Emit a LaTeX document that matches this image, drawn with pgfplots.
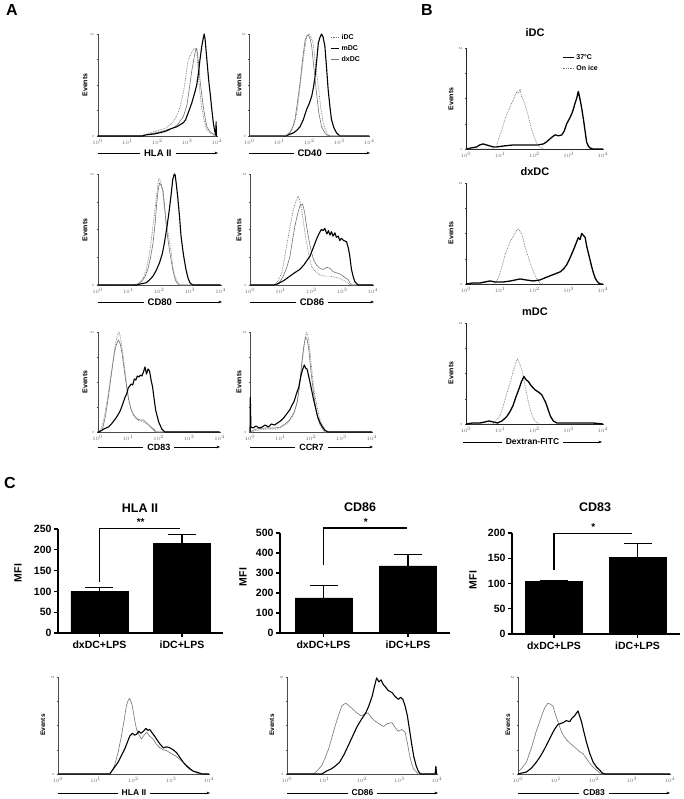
\documentclass[border=0pt]{standalone}
\usepackage{fontspec}
\setmainfont{Liberation Sans}
\usepackage{pgfplots}
\pgfplotsset{compat=1.18}
\usetikzlibrary{arrows.meta}
\pgfplotsset{
 hist/.style={scale only axis, anchor=south west, xmin=0, xmax=4, ymin=0, ymax=100,
   axis x line*=bottom, axis y line*=left,
   axis line style={black!70, line width=0.4pt},
   xtick={0,1,2,3,4}, xticklabels={$10^0$,$10^1$,$10^2$,$10^3$,$10^4$},
   ytick={0,25,50,75,100}, yticklabels={0,,,,64},
   tick label style={font=\fontsize{3}{3}\selectfont, text=black!60},
   xticklabel style={yshift=1pt}, yticklabel style={xshift=1pt},
   tick style={black!70, line width=0.3pt}, major tick length=1.2pt, tick align=outside,
   clip=false, line join=round},
 mdc/.style={black, line width=1.1pt, line join=round},
 dxdc/.style={black!55, line width=0.6pt, line join=round},
 idc/.style={black!55, densely dotted, line width=0.7pt},
 bars/.style={scale only axis, anchor=south west, ybar, bar width=57pt, ymin=0,
   axis x line*=bottom, axis y line*=left, axis line style={line width=1.3pt},
   xtick={1,2}, xticklabels={dxDC+LPS,iDC+LPS},
   tick style={line width=1.3pt, black}, major tick length=4pt, tick align=outside,
   tick label style={font=\bfseries\fontsize{10.5}{11}\selectfont},
   /pgf/number format/assume math mode=true,
   yticklabel style={xshift=1pt}, clip=false},
 barplot/.style={fill=black, draw=black, error bars/.cd, y dir=plus, y explicit,
   error bar style={line width=1.3pt, black}, error mark options={rotate=90, line width=1.3pt, mark size=14pt, black}},
}
\newcommand{\arrowlab}[5][9]{%
 \draw[-{Stealth[length=3.5pt,width=2.6pt]}, line width=0.5pt] (#2,#4) -- (#3,#4);
 \node[fill=white, inner xsep=4pt, inner ysep=1pt, font=\bfseries\fontsize{#1}{#1}\selectfont] at ({(#2+#3)/2},#4) {#5};}
\newcommand{\events}[3][7]{\node[rotate=90, font=\bfseries\fontsize{#1}{#1}\selectfont] at (#2,#3) {Events};}
\begin{document}
\begin{tikzpicture}[x=1pt,y=1pt]
\path[use as bounding box] (0,0) rectangle (683,799);
% ---------------- Panel letters
\node[font=\bfseries\fontsize{16}{16}\selectfont] at (12,789) {A};
\node[font=\bfseries\fontsize{16}{16}\selectfont] at (427,789) {B};
\node[font=\bfseries\fontsize{16}{16}\selectfont] at (10,316) {C};
% ---------------- A row 1 left : HLA II
\begin{axis}[hist, at={(97.7pt,663pt)}, width=119.3pt, height=102pt]
\addplot[idc] coordinates {(0,0)(1.4,0)(1.53,1)(1.75,3)(2.09,6)(2.31,8)(2.54,14)(2.65,20)(2.76,28)(2.87,42)(2.96,60)(3.04,75)(3.12,80)(3.21,85)(3.28,86)(3.32,84)(3.38,58)(3.43,42)(3.49,27)(3.57,15)(3.66,6)(3.77,3)(3.88,1)(3.95,0)(4,0)};
\addplot[dxdc] coordinates {(0,0)(1.45,0)(1.6,1)(2.09,4)(2.54,8)(2.7,12)(2.87,19)(2.99,30)(3.05,42)(3.15,63)(3.24,78)(3.28,84)(3.32,86)(3.38,72)(3.43,55)(3.49,40)(3.54,29)(3.6,18)(3.66,9)(3.77,4)(3.88,2)(3.95,0)(4,0)};
\addplot[mdc] coordinates {(0,0)(1.5,0)(1.6,1)(1.9,2)(2.2,4)(2.31,5)(2.45,7)(2.54,8)(2.65,9)(2.76,11)(2.87,13)(2.95,16)(3.05,24)(3.15,32)(3.25,42)(3.32,50)(3.38,62)(3.43,75)(3.49,88)(3.54,96)(3.57,100)(3.6,95)(3.66,75)(3.72,55)(3.77,42)(3.83,25)(3.88,12)(3.93,4)(3.96,1)(3.97,14)(3.98,0)(4,0)};
\end{axis}
\arrowlab[9.5]{97.7}{218}{646}{HLA II}
\events{85}{714}
% ---------------- A row 1 right : CD40
\begin{axis}[hist, at={(249.3pt,663pt)}, width=120pt, height=102pt,
  legend style={at={(rel axis cs:0.675,1.02)}, anchor=north west, draw=none, fill=none,
  font=\bfseries\fontsize{7}{8}\selectfont, inner sep=0pt, row sep=0.5pt},
  legend cell align=left,
  legend image code/.code={\draw[#1] (0pt,0pt) -- (8pt,0pt);}]
\addplot[idc] coordinates {(0,0)(1.2,0)(1.3,1)(1.41,5)(1.5,12)(1.58,22)(1.66,40)(1.74,61)(1.83,82)(1.91,98)(1.97,100)(2.02,99)(2.08,95)(2.13,91)(2.2,72)(2.3,49)(2.38,28)(2.47,12)(2.55,5)(2.63,1)(2.75,0)(4,0)};
\addlegendentry{iDC}
\addplot[mdc] coordinates {(0,0)(1.19,0)(1.3,1)(1.47,3)(1.6,6)(1.69,9)(1.8,16)(1.91,26)(2.0,32)(2.08,39)(2.14,48)(2.19,58)(2.25,75)(2.3,91)(2.36,97)(2.41,100)(2.46,97)(2.52,88)(2.58,65)(2.63,45)(2.69,28)(2.74,16)(2.82,8)(2.91,3)(3.02,0)(4,0)};
\addlegendentry{mDC}
\addplot[dxdc] coordinates {(0,0)(1.13,0)(1.25,1)(1.36,4)(1.45,9)(1.52,16)(1.6,32)(1.69,52)(1.78,76)(1.86,94)(1.92,98)(1.97,99)(2.02,96)(2.08,88)(2.16,65)(2.24,42)(2.32,22)(2.41,9)(2.5,4)(2.58,1)(2.7,0)(4,0)};
\addlegendentry{dxDC}
\end{axis}
\arrowlab[9.5]{249.3}{370}{646}{CD40}
\events{239}{714}
% ---------------- A row 2 left : CD80
\begin{axis}[hist, at={(97.7pt,514pt)}, width=123pt, height=111pt]
\addplot[idc] coordinates {(0,0)(1.3,0)(1.37,2)(1.48,6)(1.58,14)(1.66,25)(1.74,40)(1.82,58)(1.9,77)(1.96,92)(1.99,96)(2.04,94)(2.1,86)(2.16,72)(2.23,57)(2.28,48)(2.33,40)(2.38,32)(2.44,17)(2.5,9)(2.6,2)(2.7,0)(4,0)};
\addplot[dxdc] coordinates {(0,0)(1.15,0)(1.3,1)(1.42,3)(1.53,7)(1.63,14)(1.72,25)(1.8,38)(1.87,56)(1.92,74)(1.97,86)(2.01,92)(2.06,90)(2.12,86)(2.18,70)(2.23,53)(2.28,42)(2.33,32)(2.39,22)(2.44,14)(2.5,7)(2.55,3)(2.65,0)(4,0)};
\addplot[mdc] coordinates {(0,0)(1.26,0)(1.4,1)(1.58,2)(1.7,5)(1.8,8)(1.9,13)(2.01,20)(2.1,28)(2.17,38)(2.25,52)(2.33,68)(2.39,82)(2.44,95)(2.49,100)(2.52,99)(2.56,90)(2.6,80)(2.66,62)(2.71,44)(2.79,27)(2.87,14)(2.94,6)(3.0,2)(3.09,0)(4,0)};
\end{axis}
\arrowlab[9.5]{97.7}{222}{497}{CD80}
\events{85}{569}
% ---------------- A row 2 right : CD86
\begin{axis}[hist, at={(250pt,514pt)}, width=123pt, height=111pt]
\addplot[idc] coordinates {(0,0)(0.81,0)(0.92,4)(1.03,11)(1.11,22)(1.19,35)(1.3,52)(1.41,68)(1.5,76)(1.57,80)(1.62,76)(1.68,68)(1.76,52)(1.84,38)(1.92,26)(2.0,17)(2.13,12)(2.27,9)(2.45,8)(2.6,8)(2.75,7)(2.92,6)(3.05,4)(3.14,3)(3.24,0)(4,0)};
\addplot[dxdc] coordinates {(0,0)(0.86,0)(0.97,3)(1.08,8)(1.2,16)(1.3,26)(1.38,40)(1.46,53)(1.54,63)(1.62,71)(1.71,73)(1.78,65)(1.84,53)(1.92,40)(2.0,29)(2.08,22)(2.16,18)(2.27,15)(2.38,14)(2.5,16)(2.6,15)(2.7,12)(2.81,11)(2.92,10)(3.03,8)(3.12,6)(3.19,5)(3.25,2)(3.3,0)(4,0)};
\addplot[mdc] coordinates {(0,0)(0.76,0)(0.9,1)(1.1,4)(1.3,8)(1.45,11)(1.62,14)(1.75,18)(1.85,22)(1.95,26)(2.05,33)(2.16,41)(2.24,46)(2.32,50)(2.38,49)(2.43,51)(2.5,46)(2.55,49)(2.6,45)(2.65,48)(2.7,44)(2.76,47)(2.81,43)(2.87,44)(2.92,40)(2.97,42)(3.05,40)(3.14,39)(3.2,33)(3.24,27)(3.3,14)(3.36,7)(3.41,3)(3.51,0)(4,0)};
\end{axis}
\arrowlab[9.5]{250}{374}{497}{CD86}
\events{239}{569}
% ---------------- A row 3 left : CD83
\begin{axis}[hist, at={(97.7pt,367pt)}, width=122pt, height=100pt]
\addplot[idc] coordinates {(0,0)(0.1,2)(0.2,12)(0.3,30)(0.4,50)(0.5,70)(0.58,88)(0.65,98)(0.7,100)(0.75,94)(0.82,80)(0.9,60)(1.0,35)(1.08,24)(1.15,18)(1.3,12)(1.5,10)(1.65,8)(1.8,4)(1.95,0)(4,0)};
\addplot[dxdc] coordinates {(0,0)(0.15,2)(0.25,15)(0.35,35)(0.45,58)(0.55,80)(0.62,88)(0.68,92)(0.74,88)(0.8,78)(0.88,60)(0.95,45)(1.02,32)(1.1,22)(1.2,16)(1.3,13)(1.4,12)(1.5,12)(1.6,9)(1.7,6)(1.8,3)(1.9,0)(4,0)};
\addplot[mdc] coordinates {(0,0)(0.05,0)(0.2,3)(0.35,5)(0.45,8)(0.6,14)(0.7,19)(0.75,22)(0.82,28)(0.9,35)(0.95,38)(1.0,44)(1.05,46)(1.1,48)(1.15,47)(1.2,53)(1.25,52)(1.3,56)(1.35,55)(1.4,57)(1.45,56)(1.5,60)(1.55,65)(1.6,58)(1.65,63)(1.7,61)(1.75,52)(1.8,45)(1.85,33)(1.9,22)(2.0,10)(2.1,3)(2.2,0)(4,0)};
\end{axis}
\arrowlab{97.7}{220}{352}{CD83}
\events{85}{417}
% ---------------- A row 3 right : CCR7
\begin{axis}[hist, at={(250pt,367pt)}, width=122pt, height=100pt]
\addplot[idc] coordinates {(0,0)(0.3,2)(0.6,3)(0.9,3)(1.2,8)(1.4,15)(1.5,24)(1.6,40)(1.68,60)(1.75,80)(1.8,92)(1.85,100)(1.9,96)(1.95,85)(2.0,70)(2.05,55)(2.12,38)(2.2,25)(2.28,14)(2.35,8)(2.45,3)(2.55,0)(4,0)};
\addplot[dxdc] coordinates {(0,0)(0.2,3)(0.5,4)(0.8,4)(1.0,5)(1.15,8)(1.3,12)(1.45,20)(1.55,30)(1.63,48)(1.7,70)(1.76,85)(1.82,95)(1.87,93)(1.93,82)(2.0,60)(2.08,40)(2.15,25)(2.22,14)(2.3,7)(2.38,3)(2.45,0)(4,0)};
\addplot[mdc] coordinates {(0,0)(0.01,35)(0.03,5)(0.1,4)(0.2,6)(0.3,4)(0.4,5)(0.5,7)(0.6,5)(0.7,8)(0.8,7)(0.9,9)(1.0,11)(1.1,14)(1.2,18)(1.3,22)(1.38,27)(1.45,31)(1.52,38)(1.6,45)(1.66,55)(1.72,62)(1.78,67)(1.82,64)(1.87,63)(1.93,55)(2.0,45)(2.08,33)(2.15,24)(2.22,15)(2.3,9)(2.38,5)(2.45,2)(2.55,0)(4,0)};
\end{axis}
\arrowlab{250}{373}{352}{CCR7}
\events{239}{417}
% ---------------- B : iDC
\node[font=\bfseries\fontsize{11}{11}\selectfont] at (535,766) {iDC};
\begin{axis}[hist, at={(466pt,650pt)}, width=137pt, height=101pt, axis line style={black!85, line width=0.5pt},
  legend style={at={(rel axis cs:0.70,0.96)}, anchor=north west, draw=none, fill=none,
  font=\bfseries\fontsize{7}{8}\selectfont, inner sep=0pt, row sep=0.5pt},
  legend cell align=left,
  legend image code/.code={\draw[#1] (0pt,0pt) -- (11pt,0pt);}]
\addplot[black, line width=1.3pt, line join=round] coordinates {(0,0)(0.15,1)(0.31,2)(0.4,4)(0.5,5)(0.6,4)(0.7,3)(0.8,2)(0.9,2)(1.1,3)(1.38,4)(1.6,4)(1.87,4)(2.1,4)(2.26,5)(2.35,7)(2.45,10)(2.52,12)(2.6,14)(2.7,13)(2.8,14)(2.87,18)(2.94,25)(3.02,30)(3.09,35)(3.14,40)(3.18,45)(3.23,50)(3.28,57)(3.33,49)(3.38,40)(3.43,29)(3.48,17)(3.52,7)(3.57,3)(3.62,1)(3.7,0)(4,0)};
\addlegendentry{37°C}
\addplot[idc] coordinates {(0,0)(0.8,0)(0.9,4)(0.94,9)(1.04,18)(1.14,30)(1.24,38)(1.33,45)(1.4,50)(1.48,57)(1.53,55)(1.58,59)(1.62,52)(1.67,49)(1.72,44)(1.77,39)(1.85,28)(1.92,19)(2.0,11)(2.06,6)(2.15,2)(2.26,0)};
\addlegendentry{On ice}
\end{axis}
\events{451}{700}
% ---------------- B : dxDC
\node[font=\bfseries\fontsize{11}{11}\selectfont] at (535,627) {dxDC};
\begin{axis}[hist, at={(466pt,515pt)}, width=137pt, height=101pt, axis line style={black!85, line width=0.5pt}]
\addplot[idc] coordinates {(0,0)(0.85,0)(0.93,5)(1.0,11)(1.07,20)(1.14,29)(1.22,36)(1.29,42)(1.36,46)(1.43,50)(1.48,53)(1.53,55)(1.58,52)(1.63,49)(1.68,43)(1.72,37)(1.8,29)(1.87,21)(1.95,14)(2.02,8)(2.1,3)(2.16,1)(2.25,0)};
\addplot[black, line width=1.3pt, line join=round] coordinates {(0,0)(0.2,1)(0.41,1)(0.55,2)(0.7,3)(0.85,2)(1.09,2)(1.3,3)(1.58,5)(1.75,4)(1.97,3)(2.16,4)(2.3,6)(2.45,8)(2.6,10)(2.75,12)(2.85,15)(2.94,19)(3.04,26)(3.14,34)(3.21,40)(3.28,46)(3.33,44)(3.38,50)(3.43,48)(3.48,46)(3.52,38)(3.57,31)(3.62,24)(3.67,17)(3.72,11)(3.77,6)(3.82,3)(3.87,1)(3.93,0)(4,0)};
\end{axis}
\events{451}{566}
% ---------------- B : mDC
\node[font=\bfseries\fontsize{11}{11}\selectfont] at (535,487) {mDC};
\begin{axis}[hist, at={(466pt,375pt)}, width=137pt, height=101pt, axis line style={black!85, line width=0.5pt}]
\addplot[idc] coordinates {(0,0)(0.79,0)(0.9,4)(0.99,8)(1.08,17)(1.18,29)(1.28,40)(1.37,51)(1.44,59)(1.5,65)(1.56,60)(1.63,54)(1.7,42)(1.76,32)(1.82,22)(1.88,14)(1.95,7)(2.01,3)(2.14,0)};
\addplot[black, line width=1.3pt, line join=round] coordinates {(0,0)(0.2,1)(0.41,1)(0.55,2)(0.67,3)(0.8,2)(0.92,1)(1.05,3)(1.18,7)(1.28,12)(1.37,18)(1.46,27)(1.56,36)(1.62,42)(1.69,47)(1.75,44)(1.82,42)(1.9,38)(2.01,34)(2.1,32)(2.21,29)(2.27,25)(2.33,21)(2.4,14)(2.46,8)(2.55,3)(2.65,1)(2.8,1)(2.97,1)(3.2,1)(3.49,1)(3.7,1)(4,0)};
\end{axis}
\arrowlab[8.5]{463}{602}{357}{Dextran-FITC}
\events{451}{426}
% ---------------- C : bar charts
\node[font=\bfseries\fontsize{12.5}{12.5}\selectfont] at (140,291) {HLA II};
\node[font=\bfseries\fontsize{12.5}{12.5}\selectfont] at (360,292) {CD86};
\node[font=\bfseries\fontsize{12.5}{12.5}\selectfont] at (595,292) {CD83};
\node[rotate=90, font=\bfseries\fontsize{10.5}{10.5}\selectfont] at (18,226) {MFI};
\node[rotate=90, font=\bfseries\fontsize{10.5}{10.5}\selectfont] at (243,222) {MFI};
\node[rotate=90, font=\bfseries\fontsize{10.5}{10.5}\selectfont] at (473,219) {MFI};
\begin{axis}[bars, at={(58pt,166pt)}, width=165pt, height=104pt, xmin=0.497, xmax=2.497,
  ymax=250, ytick={0,50,100,150,200,250}]
\addplot[barplot] coordinates {(1,100) +- (0,9) (2,215) +- (0,21)};
\draw[line width=1.2pt] (axis cs:1,122) |- (axis cs:1.98,252);
\node[font=\bfseries\fontsize{10}{10}\selectfont, anchor=south] at (axis cs:1.5,250) {**};
\end{axis}
\begin{axis}[bars, at={(280pt,166pt)}, width=170pt, height=100pt, xmin=0.485, xmax=2.497,
  ymax=500, ytick={0,100,200,300,400,500}]
\addplot[barplot] coordinates {(1,176) +- (0,61) (2,335) +- (0,58)};
\draw[line width=1.2pt] (axis cs:1,340) |- (axis cs:1.99,525);
\node[font=\bfseries\fontsize{10}{10}\selectfont, anchor=south] at (axis cs:1.5,522) {*};
\end{axis}
\begin{axis}[bars, at={(512pt,165pt)}, width=168pt, height=101pt, xmin=0.497, xmax=2.509,
  ymax=200, ytick={0,50,100,150,200}]
\addplot[barplot] coordinates {(1,104) +- (0,2) (2,152) +- (0,27)};
\draw[line width=1.2pt] (axis cs:1,127) |- (axis cs:1.93,199);
\node[font=\bfseries\fontsize{10}{10}\selectfont, anchor=south] at (axis cs:1.47,197) {*};
\end{axis}
% ---------------- C : histograms
\begin{axis}[hist, at={(58pt,25pt)}, width=151pt, height=97pt]
\addplot[dxdc] coordinates {(0,0)(1.37,0)(1.44,4)(1.5,9)(1.59,22)(1.68,39)(1.75,55)(1.81,70)(1.86,76)(1.9,78)(1.94,74)(1.97,70)(2.02,58)(2.08,46)(2.15,40)(2.21,36)(2.28,40)(2.35,43)(2.43,39)(2.52,36)(2.6,31)(2.7,27)(2.79,25)(2.88,24)(2.96,22)(3.05,20)(3.14,18)(3.23,15)(3.32,12)(3.41,9)(3.5,6)(3.58,3)(3.67,1)(3.76,0)(4,0)};
\addplot[mdc] coordinates {(0,0)(1.37,0)(1.48,6)(1.59,12)(1.68,19)(1.77,26)(1.84,33)(1.9,39)(1.97,42)(2.03,40)(2.08,41)(2.14,44)(2.2,42)(2.26,44)(2.33,47)(2.38,45)(2.43,46)(2.5,42)(2.56,39)(2.61,36)(2.7,31)(2.79,27)(2.88,28)(2.96,27)(3.05,25)(3.14,22)(3.23,17)(3.32,12)(3.41,8)(3.5,5)(3.58,3)(3.67,2)(3.75,1)(3.81,0)(4,0)};
\end{axis}
\arrowlab[8.5]{58}{210}{6}{HLA II}
\events[6.5]{43}{74}
\begin{axis}[hist, at={(287pt,25pt)}, width=150pt, height=97pt, yticklabels={0,,,,30}]
\addplot[dxdc] coordinates {(0,0)(0.7,0)(0.8,3)(0.93,9)(1.02,17)(1.11,26)(1.2,38)(1.28,49)(1.37,60)(1.46,70)(1.52,72)(1.57,73)(1.66,70)(1.75,67)(1.86,63)(1.98,60)(2.07,62)(2.16,63)(2.25,58)(2.33,55)(2.45,52)(2.57,49)(2.68,52)(2.8,53)(2.88,48)(2.97,44)(3.06,46)(3.15,43)(3.21,32)(3.27,19)(3.33,10)(3.38,5)(3.5,0)(4,0)};
\addplot[mdc] coordinates {(0,0)(0.93,0)(1.05,3)(1.17,5)(1.28,8)(1.4,12)(1.52,20)(1.63,29)(1.75,39)(1.87,49)(1.98,56)(2.1,63)(2.18,70)(2.27,80)(2.33,90)(2.39,99)(2.45,95)(2.51,97)(2.57,92)(2.62,90)(2.7,86)(2.8,84)(2.88,80)(2.97,77)(3.03,79)(3.09,77)(3.15,70)(3.21,60)(3.27,45)(3.32,32)(3.38,18)(3.44,9)(3.5,3)(3.56,0)(3.95,0)(3.97,8)(3.99,0)(4,0)};
\end{axis}
\arrowlab[8.5]{287}{438}{6}{CD86}
\events[6.5]{272}{74}
\begin{axis}[hist, at={(518pt,25pt)}, width=152pt, height=97pt]
\addplot[dxdc] coordinates {(0,2)(0.1,6)(0.22,12)(0.31,22)(0.4,33)(0.48,44)(0.57,54)(0.64,62)(0.7,68)(0.75,71)(0.79,73)(0.85,72)(0.92,70)(0.98,62)(1.05,54)(1.12,46)(1.19,40)(1.28,35)(1.36,32)(1.45,29)(1.54,26)(1.62,23)(1.71,21)(1.8,16)(1.89,11)(1.98,7)(2.07,4)(2.15,1)(2.24,0)(4,0)};
\addplot[mdc] coordinates {(0,0)(0.1,1)(0.22,2)(0.35,6)(0.48,12)(0.6,19)(0.7,26)(0.79,33)(0.88,40)(0.96,46)(1.05,51)(1.12,52)(1.19,53)(1.27,55)(1.36,54)(1.43,58)(1.49,60)(1.54,63)(1.58,65)(1.62,60)(1.67,54)(1.73,44)(1.8,33)(1.89,21)(1.98,12)(2.07,7)(2.15,4)(2.22,1)(2.29,0)(4,0)};
\end{axis}
\arrowlab[8.5]{518}{670}{6}{CD83}
\events[6.5]{508}{74}
\end{tikzpicture}
\end{document}
